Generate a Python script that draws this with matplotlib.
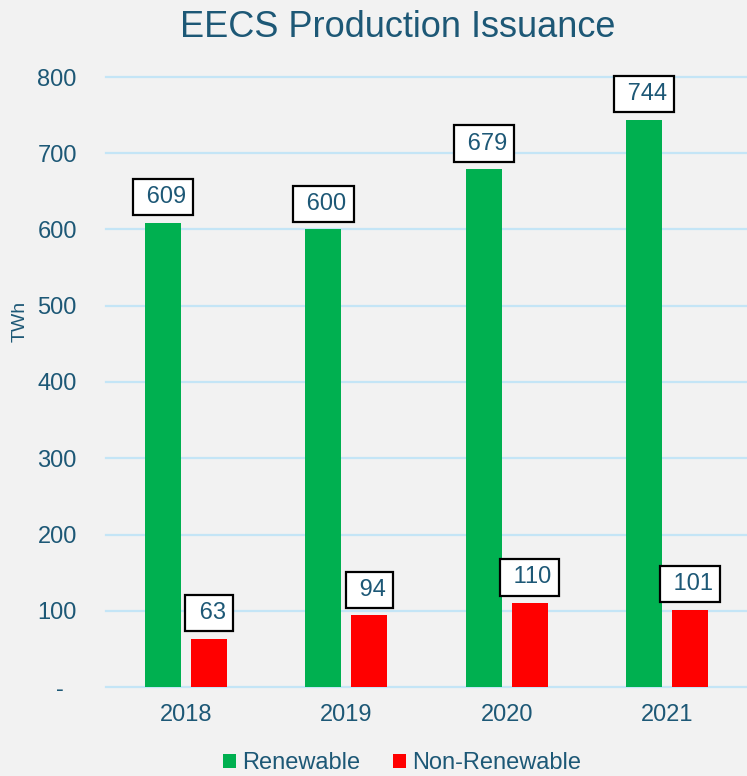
import matplotlib
matplotlib.use("Agg")
import matplotlib.pyplot as plt
import numpy as np

# data
YEARS = ["2018", "2019", "2020", "2021"]
RENEWABLE = [609, 600, 679, 744]
NON_RENEWABLE = [63, 94, 110, 101]
Y_TICKS = [0, 100, 200, 300, 400, 500, 600, 700, 800]
Y_TICK_LABELS = ["-  ", "100", "200", "300", "400", "500", "600", "700", "800"]

TEXT_COLOR = "#1D5876"
GREEN = "#00B050"
RED = "#FF0000"
GRID = "#C4E5F6"
BG = "#F2F2F2"

plt.rcParams["font.family"] = ["Liberation Sans", "DejaVu Sans"]

W, H = 747, 776
fig = plt.figure(figsize=(W / 100, H / 100), dpi=100, facecolor=BG)
ax = fig.add_axes([106 / W, (H - 687) / H, 641 / W, 610 / H])
ax.set_facecolor(BG)

x = np.arange(len(YEARS))
width = 0.225
off = 0.143
ax.bar(x - off, RENEWABLE, width, color=GREEN, zorder=3, label="Renewable")
ax.bar(x + off, NON_RENEWABLE, width, color=RED, zorder=3, label="Non-Renewable")


def label(xs, vals):
    for xi, v in zip(xs, vals):
        ax.annotate(" " + str(v), (xi, v), xytext=(0, 18.5), textcoords="offset points",
                    ha="center", va="center", fontsize=17, color=TEXT_COLOR, zorder=5,
                    bbox=dict(boxstyle="square,pad=0.3", fc="white", ec="black", lw=1.6))


label(x - off, RENEWABLE)
label(x + off, NON_RENEWABLE)

ax.set_xlim(-0.5, len(YEARS) - 0.5)
ax.set_ylim(0, 800)
ax.set_yticks(Y_TICKS)
ax.set_yticklabels(Y_TICK_LABELS)
ax.set_xticks(x)
ax.set_xticklabels(YEARS)
ax.grid(axis="y", color=GRID, lw=1.6, zorder=0)
ax.set_axisbelow(True)
for gl in ax.get_ygridlines():
    gl.set_clip_on(False)
for s in ax.spines.values():
    s.set_visible(False)
ax.tick_params(axis="y", length=0, pad=21, labelsize=17, labelcolor=TEXT_COLOR)
ax.tick_params(axis="x", length=0, pad=12, labelsize=17, labelcolor=TEXT_COLOR)

fig.text(20 / W, 1 - 321 / H, "TWh", rotation=90, ha="center", va="center",
         fontsize=14, color=TEXT_COLOR)
fig.text(398 / W, 1 - 37 / H, "EECS Production Issuance", ha="center", va="baseline",
         fontsize=26, color=TEXT_COLOR)

fig.legend(loc="center", bbox_to_anchor=(402 / W, 13 / H), ncol=2, frameon=False,
           fontsize=17, labelcolor=TEXT_COLOR, handlelength=0.55, handleheight=0.55,
           handletextpad=0.25, columnspacing=1.4, borderpad=0)

fig.savefig("out.png", dpi=100, facecolor=BG)
